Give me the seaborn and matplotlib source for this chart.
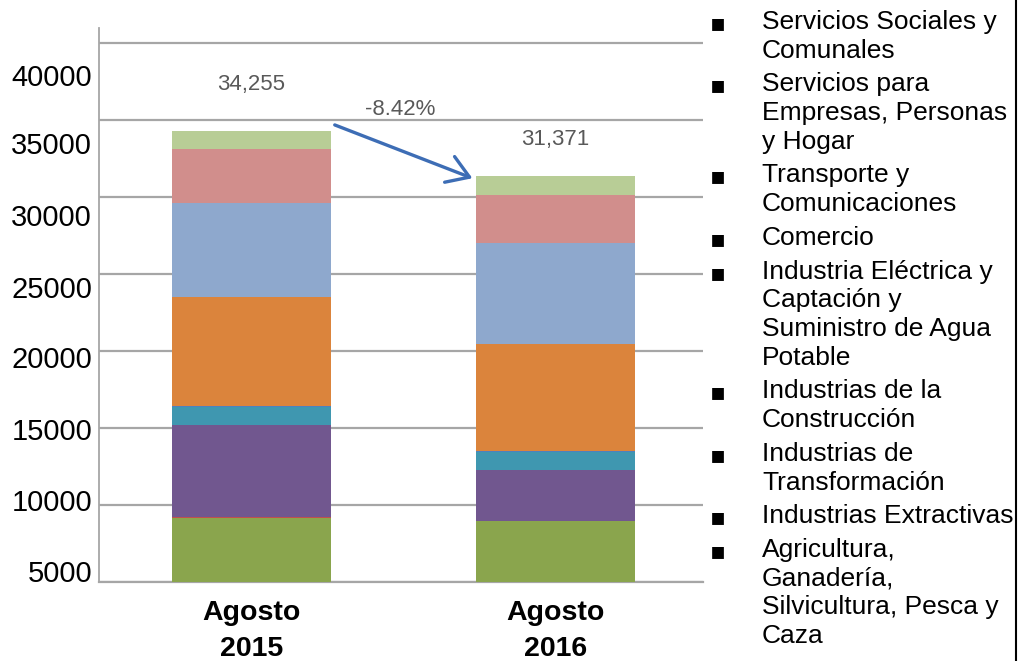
import pandas as pd
import matplotlib
matplotlib.use("Agg")
import matplotlib.pyplot as plt
import seaborn as sns

# --- DATOS ---
periodos = ["Agosto\n2015", "Agosto\n2016"]
totales = [34255, 31371]
variacion = "-8.42%"

# de abajo hacia arriba en la pila
sectores = [
    "Agricultura, Ganadería, Silvicultura, Pesca y Caza",
    "Industrias Extractivas",
    "Industrias de Transformación",
    "Industrias de la Construcción",
    "Industria Eléctrica y Captación y Suministro de Agua Potable",
    "Comercio",
    "Transporte y Comunicaciones",
    "Servicios para Empresas, Personas y Hogar",
    "Servicios Sociales y Comunales",
]
valores_2015 = [9150, 40, 6030, 1150, 60, 7060, 6150, 3500, 1115]
valores_2016 = [8930, 40, 3300, 1150, 60, 6990, 6530, 3150, 1221]
colores = ["#8AA54D", "#C0504D", "#71578F", "#3F97B0", "#4F81BD",
           "#DB843C", "#8EA8CD", "#D18E8C", "#B8CD96"]

# textos de la leyenda (como aparecen, de arriba hacia abajo)
leyenda = [
    "Servicios Sociales y\nComunales",
    "Servicios para\nEmpresas, Personas\ny Hogar",
    "Transporte y\nComunicaciones",
    "Comercio",
    "Industria Eléctrica y\nCaptación y\nSuministro de Agua\nPotable",
    "Industrias de la\nConstrucción",
    "Industrias de\nTransformación",
    "Industrias Extractivas",
    "Agricultura,\nGanadería,\nSilvicultura, Pesca y\nCaza",
]

ticks_y = [5000, 10000, 15000, 20000, 25000, 30000, 35000, 40000]
etiquetas_y = ["5000", "10000", "15000", "20000", "25000", "30000", "35000", "40000"]
# las etiquetas del eje no caen sobre las lineas en el original
pos_etiquetas_y = [5714, 10325, 14935, 19611, 24157, 28832, 33508, 37924]

# --- TABLA ACUMULADA ---
filas = []
for i, s in enumerate(sectores):
    for p, vals in zip(periodos, [valores_2015, valores_2016]):
        filas.append({"Periodo": p, "Sector": s, "Acumulado": sum(vals[:i + 1]), "orden": i})
df = pd.DataFrame(filas)

sns.set_theme(style="white")
plt.rcParams["font.family"] = ["Liberation Sans", "DejaVu Sans"]

W, H = 1021, 661
fig = plt.figure(figsize=(W / 100, H / 100), dpi=100)
ax = fig.add_axes([99 / W, 1 - 582 / H, (703 - 99) / W, (582 - 28) / H])

# pila: de la capa superior a la inferior, cada una tapa a la anterior
for i in reversed(range(len(sectores))):
    sub = df[df["orden"] == i]
    sns.barplot(data=sub, x="Periodo", y="Acumulado", order=periodos, color=colores[i],
                saturation=1, width=0.523, errorbar=None, ax=ax, zorder=3,
                linewidth=0, edgecolor="none")

ax.set_xlim(-0.502, 1.485)
ax.set_ylim(5000, 40970)
ax.set_xlabel("")
ax.set_ylabel("")

ax.set_yticks(ticks_y)
ax.set_yticklabels([])
ax.set_yticks(pos_etiquetas_y, labels=etiquetas_y, minor=True)
ax.tick_params(axis="y", which="both", length=0, pad=5, labelsize=21, labelcolor="black")
ax.tick_params(axis="x", length=0, pad=13)
for t in ax.get_xticklabels():
    t.set_fontsize(20.5)
    t.set_fontweight("bold")
    t.set_linespacing(1.5)
    t.set_color("black")

ax.yaxis.grid(True, which="major", color="#A6A6A6", linewidth=1.6, zorder=1)
ax.set_axisbelow(True)
for lado in ["top", "right"]:
    ax.spines[lado].set_visible(False)
ax.spines["left"].set_color("#A6A6A6")
ax.spines["left"].set_linewidth(1.3)
ax.spines["bottom"].set_color("#A6A6A6")
ax.spines["bottom"].set_linewidth(1.6)

# --- ANOTACIONES ---
ax.text(0, 37275, f"{totales[0]:,}", ha="center", va="center", fontsize=16,
        color="#595959")
ax.text(1, 33703, f"{totales[1]:,}", ha="center", va="center", fontsize=16,
        color="#595959")
ax.text(0.488, 35650, variacion, ha="center", va="center", fontsize=16,
        color="#595959")
ax.annotate("", xy=(0.735, 31150), xytext=(0.265, 34742),
            arrowprops=dict(arrowstyle="->,head_length=0.7,head_width=0.45",
                            color="#3D6DB5", lw=2.4, mutation_scale=22))

# --- LEYENDA (viñetas negras) ---
y = 22
paso = 28.7
for etiqueta in leyenda:
    lineas = etiqueta.split("\n")
    fig.text(718 / W, 1 - (y + 1) / H, "\u25aa", ha="center", va="center",
             fontsize=17, color="black", family=["DejaVu Sans"])
    for k, linea in enumerate(lineas):
        fig.text(762 / W, 1 - (y + k * paso) / H, linea, ha="left", va="center",
                 fontsize=19, color="black")
    y += len(lineas) * paso + 5

# borde derecho
fig.add_artist(plt.Line2D([1016 / W, 1016 / W], [0, 1], color="black", lw=1.5,
                          transform=fig.transFigure))

fig.savefig("out.png", dpi=100)
